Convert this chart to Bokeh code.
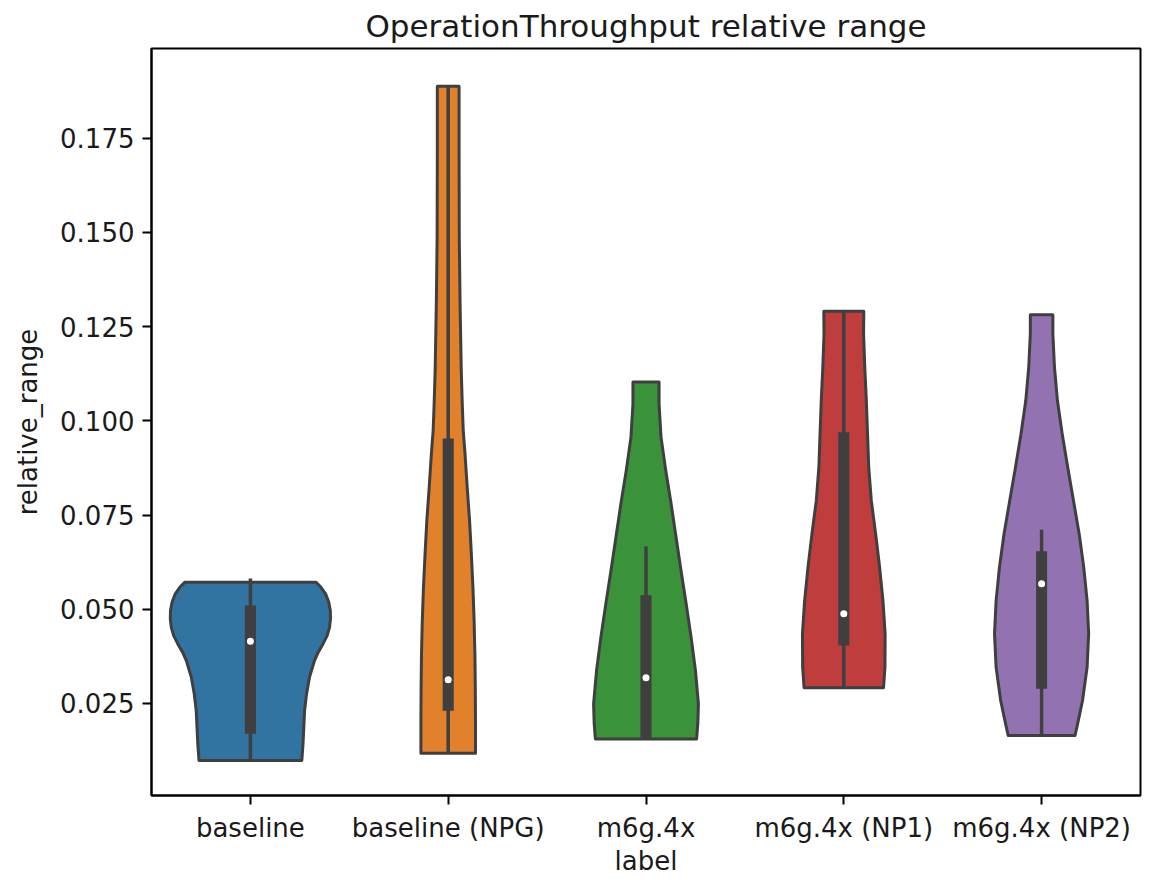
from bokeh.plotting import figure
from bokeh.models import Range1d, FixedTicker, PrintfTickFormatter, ColumnDataSource
from bokeh.embed import file_html
from bokeh.resources import INLINE

# ---- data ----
labels = ["baseline", "baseline (NPG)", "m6g.4x", "m6g.4x (NP1)", "m6g.4x (NP2)"]
colors = ["#3274a1", "#e1812c", "#3a923a", "#c03d3e", "#9372b2"]

# violin outlines: y levels and half-widths (in category units)
baseline_y = [0.0099, 0.0143, 0.0187, 0.0231, 0.0276, 0.0320, 0.0364, 0.0386, 0.0408, 0.0430, 0.0452, 0.0475, 0.0497, 0.0519, 0.0541, 0.0559, 0.0572]
baseline_w = [0.260, 0.266, 0.270, 0.274, 0.284, 0.299, 0.324, 0.343, 0.367, 0.388, 0.400, 0.405, 0.404, 0.396, 0.380, 0.356, 0.331]

npg_y = [0.0118, 0.0205, 0.0293, 0.0382, 0.0470, 0.0559, 0.0647, 0.0736, 0.0824, 0.0913, 0.0975, 0.1046, 0.1134, 0.1312, 0.1487, 0.1718, 0.1888]
npg_w = [0.138, 0.138, 0.137, 0.135, 0.131, 0.125, 0.117, 0.108, 0.096, 0.085, 0.076, 0.071, 0.066, 0.060, 0.056, 0.055, 0.055]

m6g_y = [0.0156, 0.0197, 0.0249, 0.0338, 0.0426, 0.0515, 0.0603, 0.0691, 0.0780, 0.0868, 0.0957, 0.1045, 0.1103]
m6g_w = [0.256, 0.262, 0.265, 0.250, 0.228, 0.203, 0.177, 0.152, 0.127, 0.100, 0.076, 0.066, 0.066]

np1_y = [0.0292, 0.0346, 0.0435, 0.0523, 0.0612, 0.0700, 0.0789, 0.0877, 0.0966, 0.1054, 0.1143, 0.1231, 0.1291]
np1_w = [0.201, 0.208, 0.209, 0.198, 0.181, 0.161, 0.139, 0.126, 0.120, 0.114, 0.106, 0.100, 0.101]

np2_y = [0.0165, 0.0196, 0.0258, 0.0346, 0.0435, 0.0523, 0.0612, 0.0700, 0.0789, 0.0877, 0.0966, 0.1054, 0.1143, 0.1231, 0.1282]
np2_w = [0.169, 0.182, 0.207, 0.230, 0.238, 0.230, 0.213, 0.190, 0.161, 0.132, 0.104, 0.080, 0.065, 0.057, 0.057]

# inner box statistics
q1 = [0.0170, 0.0231, 0.0156, 0.0404, 0.0289]
q3 = [0.0510, 0.0953, 0.0537, 0.0970, 0.0654]
median = [0.0415, 0.0313, 0.0318, 0.0488, 0.0568]
whisker_lo = [0.0099, 0.0118, 0.0156, 0.0292, 0.0165]
whisker_hi = [0.0582, 0.1888, 0.0667, 0.1291, 0.0711]

y_ticks = [0.025, 0.050, 0.075, 0.100, 0.125, 0.150, 0.175]

profiles = [(baseline_y, baseline_w), (npg_y, npg_w), (m6g_y, m6g_w), (np1_y, np1_w), (np2_y, np2_w)]
positions = list(range(len(labels)))

FONT = "DejaVu Sans"
GRAY = "#3f3f3f"

p = figure(frame_width=989, frame_height=747, width=1153, height=882,
           output_backend="svg", toolbar_location=None,
           x_range=Range1d(-0.5, 4.5), y_range=Range1d(0.00058, 0.19883),
           title="OperationThroughput relative range",
           min_border_left=151, min_border_right=13, min_border_top=48, min_border_bottom=87)

# violins
xs, ys = [], []
for c, (yv, wv) in zip(positions, profiles):
    left = [c - w for w in wv]
    right = [c + w for w in reversed(wv)]
    xs.append(left + right)
    ys.append(list(yv) + list(reversed(yv)))
p.patches(xs=xs, ys=ys, fill_color=colors, line_color=GRAY, line_width=3, line_join="round")

# inner boxes
src = ColumnDataSource(dict(x=positions, q1=q1, q3=q3, med=median, lo=whisker_lo, hi=whisker_hi))
p.segment(x0="x", y0="lo", x1="x", y1="hi", source=src, line_color=GRAY, line_width=3.5)
p.vbar(x="x", width=0.056, bottom="q1", top="q3", source=src, fill_color=GRAY, line_color=None)
p.scatter(x="x", y="med", source=src, size=7, fill_color="white", line_color=None)

# axes styling
p.xgrid.visible = False
p.ygrid.visible = False
p.outline_line_color = "black"
p.outline_line_width = 2
p.outline_line_alpha = 1

p.xaxis.ticker = FixedTicker(ticks=positions)
p.xaxis.major_label_overrides = {i: l for i, l in zip(positions, labels)}
p.yaxis.ticker = FixedTicker(ticks=y_ticks)
p.yaxis.formatter = PrintfTickFormatter(format="%.3f")

p.xaxis.axis_label = "label"
p.yaxis.axis_label = "relative_range"
for ax in (p.xaxis[0], p.yaxis[0]):
    ax.axis_line_color = "black"
    ax.axis_line_width = 2
    ax.major_tick_line_color = "black"
    ax.major_tick_line_width = 2
    ax.major_tick_out = 9
    ax.major_tick_in = 0
    ax.minor_tick_line_color = None
    ax.major_label_text_font = FONT
    ax.major_label_text_font_size = "26px"
    ax.major_label_text_color = "#1a1a1a"
    ax.axis_label_text_font = FONT
    ax.axis_label_text_font_size = "26px"
    ax.axis_label_text_font_style = "normal"
    ax.axis_label_text_color = "#1a1a1a"
    ax.major_label_standoff = 8
p.xaxis.axis_label_standoff = 0
p.yaxis.axis_label_standoff = 14

p.title.text_font = FONT
p.title.text_font_size = "31px"
p.title.text_font_style = "normal"
p.title.text_color = "#1a1a1a"
p.title.align = "center"

open("out.html", "w").write(file_html(p, INLINE))
